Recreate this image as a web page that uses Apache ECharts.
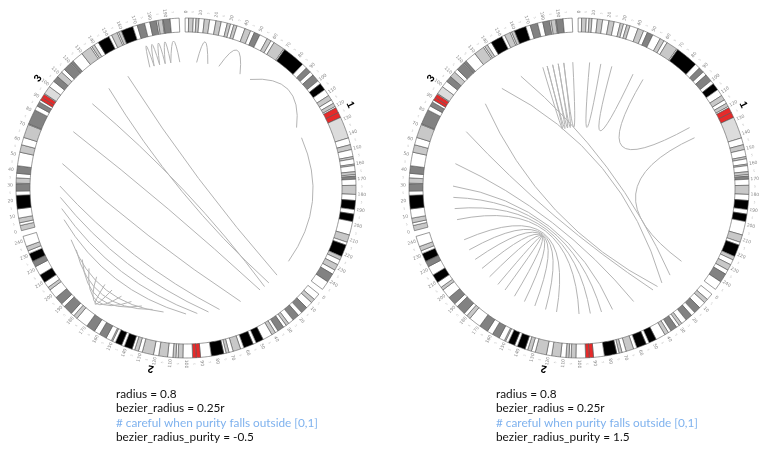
<!DOCTYPE html>
<html><head><meta charset="utf-8">
<style>html,body{margin:0;padding:0;background:#fff}#c{width:778px;height:459px}</style>
<script src="https://cdn.jsdelivr.net/npm/echarts@6/dist/echarts.min.js"></script>
</head><body><div id="c"></div>
<script>
// --- data -------------------------------------------------------------
const chromNames = ['1','2','3'];
const chromLengths = [247, 243, 199];     // Mb
const chromGap = 3.9;                     // Mb of empty axis after each chromosome
const stainColors = {w:'#ffffff', l:'#dcdcdc', c:'#c8c8c8', d:'#828282', k:'#000000', r:'#e62a2a'};

// [start, end, stain] in Mb; white bands are what is left between them
const bands1 = [[2.3,5.4,'c'],[7.2,9.2,'c'],[12.7,16.2,'c'],[20.4,23.9,'c'],[28,30.2,'c'],[32.4,34.6,'c'],[40.1,44.1,'c'],
 [46.8,50.7,'d'],[56.1,59,'c'],[61.3,68.9,'c'],[69.7,84.9,'k'],[88.4,92,'d'],[94.7,99.7,'d'],[102.2,107,'k'],[111.6,115,'c'],
 [117.6,120,'c'],[121,124.5,'r'],[124.5,128,'r'],[128,142.4,'l'],[147,150.3,'c'],[155,156.5,'c'],[160,161,'c'],[165,167,'c'],
 [168,170,'d'],[174,180,'c'],[184,190,'k'],[193,198,'k'],[207,212,'c'],[214,222,'k'],[222,224.5,'c'],[228,232,'c'],[235,241,'d']];
const bands2 = [[4.6,7.4,'c'],[12,16.6,'d'],[19.4,24,'d'],[27.7,29.8,'c'],[31.9,36.3,'d'],[38.3,41,'c'],[47.5,52.6,'k'],[54.7,61.3,'k'],
 [63.6,68.7,'c'],[71.5,73.5,'c'],[75,83.3,'k'],[90.5,93.3,'r'],[93.3,95.7,'r'],[102.1,105.3,'c'],[106.7,108.7,'c'],[112.2,118.1,'c'],
 [121.6,129.1,'c'],[131.7,134.3,'c'],[136.1,141.5,'k'],[143.4,147.9,'k'],[149.9,150.8,'c'],[154.6,159.6,'d'],[163.5,169.5,'d'],
 [177.7,180.4,'c'],[182.7,189.1,'d'],[191.6,197.1,'d'],[203.5,205.6,'c'],[209.6,215.3,'k'],[221.5,225.2,'d'],[225.5,231,'k'],[233,236,'c']];
const bands3 = [[0,3.5,'c'],[5.3,8.4,'c'],[14.5,23.5,'k'],[26.3,31,'d'],[31.5,35,'c'],[38,43,'d'],[52,57,'c'],[62,71,'c'],
 [71.5,81.5,'d'],[84.5,87.5,'d'],[89,91,'r'],[91,93.5,'r'],[94,99.5,'l'],[104,108,'d'],[108,112,'c'],[114.5,120,'d'],[120.5,122.5,'d'],
 [130,137,'c'],[138,140,'c'],[143,151,'k'],[153,157,'c'],[158,160,'c'],[160,168,'k'],[171,176,'d'],[179.5,184,'d'],[185,188,'c'],[188.5,193,'d']];
const bandsByChrom = [bands1, bands2, bands3];

// links: [chromA, posA, chromB, posB] (chromosome index, Mb)
const links3to2 = [[2,150,1,10],[2,130,1,20],[2,110,1,25],[2,80,1,30],[2,50,1,50],[2,30,1,70],[2,20,1,80],[2,10,1,90],[2,0,1,100]];
const links2to2 = [[1,228,1,120],[1,218,1,130],[1,208,1,140],[1,198,1,150],[1,188,1,160],[1,178,1,170]];
const links1to1 = [[0,10,0,20],[0,30,0,50],[0,60,0,120],[0,130,0,245]];
const links3to3 = [[2,171,2,175],[2,175,2,180],[2,180,2,185],[2,185,2,190],[2,190,2,198]];
const allLinks = links3to2.concat(links2to2, links1to1, links3to3);

const panelCenters = [[186,188],[579,188]];
const panelPurity = [-0.5, 1.5];
const captionRadius = 'radius = 0.8';
const captionBezier = 'bezier_radius = 0.25r';
const captionNote = '# careful when purity falls outside [0,1]';
const captionPurity = ['bezier_radius_purity = -0.5', 'bezier_radius_purity = 1.5'];
const captionX = [116, 496];
const captionY = [394, 408.5, 423, 437.5];

// --- geometry ---------------------------------------------------------
const OUTER = 170, INNER = 156, LINK_R = 126, BEZIER_R = 39.5, TICK_R = 176, NAME_R = 184;
const offsets = []; let total = 0;
chromLengths.forEach(l => { offsets.push(total); total += l + chromGap; });
const abs = (c, p) => offsets[c] + p;

// full band list including white gaps
const bandRows = [];
bandsByChrom.forEach((list, c) => {
  let cur = 0;
  list.forEach(b => {
    if (b[0] > cur) bandRows.push([c, cur, b[0], 'w']);
    bandRows.push([c, b[0], b[1], b[2]]);
    cur = b[1];
  });
  if (cur < chromLengths[c]) bandRows.push([c, cur, chromLengths[c], 'w']);
});
const tickRows = [];
chromLengths.forEach((l, c) => {
  for (let p = 0; p <= l; p += 5) tickRows.push([c, p]);
});

function radialRotation(api, p) {
  const o = api.coord([0, 0]);
  let rot = Math.atan2(-(p[1] - o[1]), p[0] - o[0]);
  if (p[0] < o[0]) rot += Math.PI;
  return rot;
}

function bandSeries(pi) {
  return { type:'custom', coordinateSystem:'polar', polarIndex:pi, silent:true, animation:false, clip:false,
    data: bandRows.map((b,i) => [INNER, abs(b[0], b[1])]),
    encode:{radius:0, angle:1},
    renderItem(params, api) {
      const b = bandRows[params.dataIndex];
      const a0 = abs(b[0], b[1]), a1 = abs(b[0], b[2]);
      const pts = [];
      const n = Math.max(2, Math.ceil(a1 - a0));
      for (let i = 0; i <= n; i++) pts.push(api.coord([OUTER, a0 + (a1 - a0) * i / n]));
      for (let i = n; i >= 0; i--) pts.push(api.coord([INNER, a0 + (a1 - a0) * i / n]));
      return { type:'polygon', shape:{points:pts}, style:{fill:stainColors[b[3]], stroke:'#555', lineWidth:0.6} };
    } };
}
function tickSeries(pi) {
  return { type:'custom', coordinateSystem:'polar', polarIndex:pi, silent:true, animation:false, clip:false,
    data: tickRows.map(t => [TICK_R, abs(t[0], t[1])]),
    encode:{radius:0, angle:1},
    renderItem(params, api) {
      const t = tickRows[params.dataIndex];
      const p = api.coord([TICK_R, abs(t[0], t[1])]);
      const major = t[1] % 10 === 0;
      return { type:'text', x:p[0], y:p[1], rotation:radialRotation(api,p),
        style:{ text: major ? String(t[1]) : '5', fill: major ? '#888' : '#bbb', align:'center', verticalAlign:'middle',
                font: (major ? 4.5 : 3) + 'px "DejaVu Sans"' } };
    } };
}
function nameSeries(pi) {
  return { type:'custom', coordinateSystem:'polar', polarIndex:pi, silent:true, animation:false, clip:false,
    data: chromNames.map((n,c) => [NAME_R, abs(c, chromLengths[c]/2)]),
    encode:{radius:0, angle:1},
    renderItem(params, api) {
      const c = params.dataIndex;
      const p = api.coord([NAME_R, abs(c, chromLengths[c]/2)]);
      const o = api.coord([0,0]);
      const rot = Math.atan2(-(p[1]-o[1]), p[0]-o[0]) - Math.PI/2;
      return { type:'text', x:p[0], y:p[1], rotation:rot,
        style:{ text:chromNames[c], fill:'#000', align:'center', verticalAlign:'middle', font:'bold 10.5px "Liberation Sans"' } };
    } };
}
function linkSeries(pi) {
  const purity = panelPurity[pi];
  return { type:'custom', coordinateSystem:'polar', polarIndex:pi, silent:true, animation:false, clip:false,
    data: allLinks.map(l => [LINK_R, abs(l[0], l[1])]),
    encode:{radius:0, angle:1},
    renderItem(params, api) {
      const l = allLinks[params.dataIndex];
      let a0 = abs(l[0], l[1]), a1 = abs(l[2], l[3]);
      const p0 = api.coord([LINK_R, a0]), p1 = api.coord([LINK_R, a1]);
      let mid = (a0 + a1) / 2;
      if (Math.abs(a0 - a1) > total / 2) mid = (mid + total / 2) % total;
      const b = api.coord([BEZIER_R, mid]);
      const mx = (p0[0] + p1[0]) / 2, my = (p0[1] + p1[1]) / 2;
      return { type:'bezierCurve',
        shape:{ x1:p0[0], y1:p0[1], x2:p1[0], y2:p1[1],
                cpx1: purity * b[0] + (1 - purity) * mx, cpy1: purity * b[1] + (1 - purity) * my },
        style:{ fill:null, stroke:'#b4b4b4', lineWidth:1 } };
    } };
}

const polar = [], angleAxis = [], radiusAxis = [], series = [];
panelCenters.forEach((c, i) => {
  polar.push({ center:c, radius:[0, OUTER] });
  angleAxis.push({ polarIndex:i, type:'value', min:0, max:total, startAngle:90.3, clockwise:true, show:false });
  radiusAxis.push({ polarIndex:i, type:'value', min:0, max:OUTER, show:false });
  series.push(linkSeries(i), bandSeries(i), tickSeries(i), nameSeries(i));
});

const graphic = [];
captionX.forEach((x, i) => {
  [captionRadius, captionBezier, captionNote, captionPurity[i]].forEach((t, j) => {
    graphic.push({ type:'text', x:x, y:captionY[j], silent:true,
      style:{ text:t, fill: j === 2 ? '#7fb2ee' : '#111', font:'11.8px Lato', verticalAlign:'middle', align:'left' } });
  });
});

const chart = echarts.init(document.getElementById('c'), null, {renderer:'canvas'});
chart.setOption({ animation:false, backgroundColor:'#fff', polar, angleAxis, radiusAxis, series, graphic, tooltip:{show:false} });
</script></body></html>
